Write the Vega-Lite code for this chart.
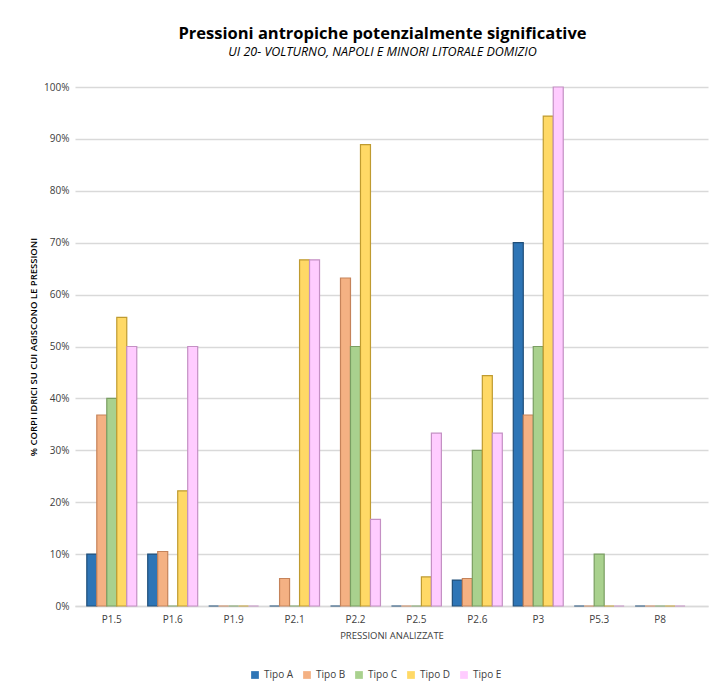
{
  "$schema": "https://vega.github.io/schema/vega-lite/v6.json",
  "autosize": {"type": "none"},
  "padding": {"left": 75, "top": 87, "right": 4, "bottom": 82},
  "width": 633,
  "height": 519,
  "background": "white",
  "title": {
    "text": "Pressioni antropiche potenzialmente significative",
    "subtitle": "UI 20- VOLTURNO, NAPOLI E MINORI LITORALE DOMIZIO",
    "anchor": "middle",
    "dx": -9,
    "offset": 24,
    "font": "Open Sans",
    "fontSize": 16.5,
    "fontWeight": "bold",
    "color": "#000000",
    "subtitleFont": "Open Sans",
    "subtitleFontSize": 12.5,
    "subtitleFontStyle": "italic",
    "subtitleColor": "#000000",
    "subtitlePadding": 3
  },
  "data": {
    "values": [
      {"p": "P1.5", "tipo": "Tipo A", "v": 0.10},
      {"p": "P1.5", "tipo": "Tipo B", "v": 0.368},
      {"p": "P1.5", "tipo": "Tipo C", "v": 0.40},
      {"p": "P1.5", "tipo": "Tipo D", "v": 0.556},
      {"p": "P1.5", "tipo": "Tipo E", "v": 0.50},
      {"p": "P1.6", "tipo": "Tipo A", "v": 0.10},
      {"p": "P1.6", "tipo": "Tipo B", "v": 0.105},
      {"p": "P1.6", "tipo": "Tipo C", "v": 0},
      {"p": "P1.6", "tipo": "Tipo D", "v": 0.222},
      {"p": "P1.6", "tipo": "Tipo E", "v": 0.50},
      {"p": "P1.9", "tipo": "Tipo A", "v": 0},
      {"p": "P1.9", "tipo": "Tipo B", "v": 0},
      {"p": "P1.9", "tipo": "Tipo C", "v": 0},
      {"p": "P1.9", "tipo": "Tipo D", "v": 0},
      {"p": "P1.9", "tipo": "Tipo E", "v": 0},
      {"p": "P2.1", "tipo": "Tipo A", "v": 0},
      {"p": "P2.1", "tipo": "Tipo B", "v": 0.053},
      {"p": "P2.1", "tipo": "Tipo C", "v": 0},
      {"p": "P2.1", "tipo": "Tipo D", "v": 0.667},
      {"p": "P2.1", "tipo": "Tipo E", "v": 0.667},
      {"p": "P2.2", "tipo": "Tipo A", "v": 0},
      {"p": "P2.2", "tipo": "Tipo B", "v": 0.632},
      {"p": "P2.2", "tipo": "Tipo C", "v": 0.50},
      {"p": "P2.2", "tipo": "Tipo D", "v": 0.889},
      {"p": "P2.2", "tipo": "Tipo E", "v": 0.167},
      {"p": "P2.5", "tipo": "Tipo A", "v": 0},
      {"p": "P2.5", "tipo": "Tipo B", "v": 0},
      {"p": "P2.5", "tipo": "Tipo C", "v": 0},
      {"p": "P2.5", "tipo": "Tipo D", "v": 0.056},
      {"p": "P2.5", "tipo": "Tipo E", "v": 0.333},
      {"p": "P2.6", "tipo": "Tipo A", "v": 0.05},
      {"p": "P2.6", "tipo": "Tipo B", "v": 0.053},
      {"p": "P2.6", "tipo": "Tipo C", "v": 0.30},
      {"p": "P2.6", "tipo": "Tipo D", "v": 0.444},
      {"p": "P2.6", "tipo": "Tipo E", "v": 0.333},
      {"p": "P3", "tipo": "Tipo A", "v": 0.70},
      {"p": "P3", "tipo": "Tipo B", "v": 0.368},
      {"p": "P3", "tipo": "Tipo C", "v": 0.50},
      {"p": "P3", "tipo": "Tipo D", "v": 0.944},
      {"p": "P3", "tipo": "Tipo E", "v": 1.0},
      {"p": "P5.3", "tipo": "Tipo A", "v": 0},
      {"p": "P5.3", "tipo": "Tipo B", "v": 0},
      {"p": "P5.3", "tipo": "Tipo C", "v": 0.10},
      {"p": "P5.3", "tipo": "Tipo D", "v": 0},
      {"p": "P5.3", "tipo": "Tipo E", "v": 0},
      {"p": "P8", "tipo": "Tipo A", "v": 0},
      {"p": "P8", "tipo": "Tipo B", "v": 0},
      {"p": "P8", "tipo": "Tipo C", "v": 0},
      {"p": "P8", "tipo": "Tipo D", "v": 0},
      {"p": "P8", "tipo": "Tipo E", "v": 0}
    ]
  },
  "mark": {"type": "bar", "strokeWidth": 1.2},
  "encoding": {
    "x": {
      "field": "p",
      "type": "nominal",
      "sort": null,
      "scale": {"paddingInner": 0.18, "paddingOuter": 0.285, "align": 0.34},
      "axis": {
        "title": "PRESSIONI ANALIZZATE",
        "titleFont": "Open Sans",
        "titleFontSize": 9.5,
        "titleFontWeight": "normal",
        "titleColor": "#404040",
        "titlePadding": 6,
        "labelAngle": 0,
        "labelFont": "Open Sans",
        "labelFontSize": 10,
        "labelColor": "#404040",
        "labelPadding": 8,
        "ticks": false,
        "domainColor": "#d9d9d9",
        "domainWidth": 1.5
      }
    },
    "xOffset": {"field": "tipo", "type": "nominal", "scale": {"paddingInner": 0}},
    "y": {
      "field": "v",
      "type": "quantitative",
      "scale": {"domain": [0, 1]},
      "axis": {
        "title": "% CORPI IDRICI SU CUI AGISCONO LE PRESSIONI",
        "titleFont": "Open Sans",
        "titleFontSize": 9.5,
        "titleFontWeight": 600,
        "titleColor": "#000000",
        "titlePadding": 5,
        "format": ".0%",
        "tickCount": 10,
        "labelFont": "Open Sans",
        "labelFontSize": 10,
        "labelColor": "#404040",
        "labelPadding": 6,
        "ticks": false,
        "domain": false,
        "gridColor": "#d9d9d9",
        "gridWidth": 1.5
      }
    },
    "color": {
      "field": "tipo",
      "type": "nominal",
      "scale": {
        "domain": ["Tipo A", "Tipo B", "Tipo C", "Tipo D", "Tipo E"],
        "range": ["#2E75B6", "#F4B183", "#A9D18E", "#FFD966", "#FFCCFF"]
      },
      "legend": {
        "title": null,
        "orient": "none",
        "legendX": 175,
        "legendY": 583,
        "direction": "horizontal",
        "symbolType": "square",
        "symbolSize": 60,
        "symbolStrokeWidth": 0,
        "labelFont": "Open Sans",
        "labelFontSize": 10,
        "labelColor": "#404040",
        "columnPadding": 8
      }
    },
    "stroke": {
      "field": "tipo",
      "type": "nominal",
      "scale": {
        "domain": ["Tipo A", "Tipo B", "Tipo C", "Tipo D", "Tipo E"],
        "range": ["#1F4E79", "#C5835A", "#7A9E62", "#BF9B30", "#C490C4"]
      },
      "legend": null
    }
  },
  "config": {"view": {"stroke": null}}
}
